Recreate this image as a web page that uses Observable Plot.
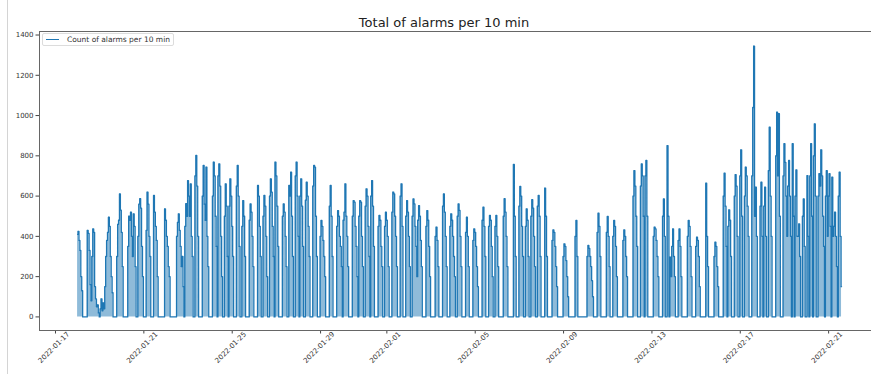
<!DOCTYPE html>
<html>
<head>
<meta charset="utf-8">
<script src="https://cdn.jsdelivr.net/npm/d3@7"></script>
<script src="https://cdn.jsdelivr.net/npm/@observablehq/plot@0.6"></script>
<style>
  body { margin: 0; background: #fff; font-family: "DejaVu Sans", sans-serif; }
  #wrap { position: relative; width: 871px; height: 374px; overflow: hidden; background: #fff; }
  #cellbar { position: absolute; left: 7px; top: 0; width: 1px; height: 374px; background: #d4d4d4; }
  #title { position: absolute; left: 444px; top: 16px; transform: translateX(-50%); font-size: 13px; line-height: 1; color: #222; white-space: nowrap; }
  #chart { position: absolute; left: 0; top: 30px; }
  #legend { position: absolute; left: 42px; top: 33px; width: 130px; height: 11px; border: 1px solid #dcdcdc; border-radius: 2px; background: rgba(255,255,255,0.85); }
  #legend .swatch { position: absolute; left: 3px; top: 5px; width: 13px; height: 1px; background: #1f77b4; }
  #legend .label { position: absolute; left: 24px; top: 1.5px; font-size: 7.5px; line-height: 1; color: #333; white-space: nowrap; }
</style>
</head>
<body>
<div id="wrap">
  <div id="cellbar"></div>
  <div id="title">Total of alarms per 10 min</div>
  <div id="chart"></div>
  <div id="legend"><div class="swatch"></div><div class="label">Count of alarms per 10 min</div></div>
</div>
<script>
// ---- data ----
const seriesStart = "2022-01-18T00:00Z";   // first sample
const seriesHours = 831;                    // hourly samples through 2022-02-21 14:00

// start of each burst of alarms, in hours after seriesStart
const pulseStartHour = [
  0, 11, 22, 30, 43, 55, 66, 75, 83, 95,
  108, 117, 128, 136, 147, 153, 160, 165, 173, 179,
  187, 196, 202, 209, 215, 223, 230, 237, 242, 248,
  256, 264, 274, 282, 289, 299, 306, 313, 319, 327,
  334, 342, 351, 357, 364, 370, 379, 389, 397, 405,
  413, 422, 430, 440, 447, 454, 463, 474, 480, 487,
  493, 500, 508, 516, 528, 541, 554, 565, 575, 582,
  593, 604, 612, 617, 626, 636, 641, 644, 653, 663,
  672, 683, 692, 702, 707, 714, 720, 725, 733, 742,
  746, 751, 759, 767, 772, 777, 780, 783, 788, 793,
  796, 800, 805, 813, 816, 820, 822, 827
];

// hourly alarm counts during each burst (zero outside the bursts)
const pulseCounts = [
  [410, 425, 380, 330, 200, 130],
  [430, 415, 330, 160, 80, 300, 437, 420, 150, 90, 50],
  [60, 20, 0, 40, 90, 30, 70, 40],
  [150, 300, 380, 420, 495, 450, 300, 200, 120],
  [300, 460, 480, 611, 530, 420, 250],
  [350, 500, 480, 520, 400, 300, 512, 450, 250],
  [400, 560, 587, 540, 350, 200],
  [430, 620, 560, 400, 300],
  [603, 520, 450, 380, 200],
  [537, 480, 400, 350, 250, 200],
  [400, 470, 512, 430, 350, 250, 300, 150],
  [450, 562, 500, 677, 600, 500, 660, 400, 300],
  [700, 802, 650, 400],
  [600, 752, 560, 480, 744, 400, 250],
  [600, 769, 700, 500, 350],
  [700, 760, 650, 400, 200],
  [500, 661, 550, 300],
  [550, 686, 600, 450, 300],
  [650, 752, 600, 350],
  [450, 578, 500, 300],
  [480, 561, 520, 400, 250],
  [653, 600, 450, 300],
  [500, 603, 550, 400, 200],
  [600, 686, 620, 450, 300],
  [769, 700, 550, 350],
  [500, 561, 520, 400, 250],
  [653, 600, 719, 500, 300],
  [700, 769, 600, 400],
  [600, 686, 550, 350],
  [580, 669, 600, 450, 300],
  [650, 752, 744, 500, 300],
  [400, 479, 450, 380, 300, 200],
  [550, 653, 500, 300],
  [450, 528, 500, 400, 350, 250],
  [480, 520, 661, 500, 400, 250],
  [500, 578, 570, 450, 350, 200],
  [500, 578, 570, 400, 250],
  [550, 636, 600, 450, 300],
  [600, 677, 550, 350],
  [450, 504, 480, 350, 250],
  [450, 520, 480, 400, 250],
  [520, 620, 611, 500, 400, 250],
  [600, 661, 450],
  [500, 578, 520, 400, 250],
  [500, 586, 561, 450, 350, 200],
  [480, 553, 500, 380, 250],
  [450, 528, 480, 350, 200],
  [400, 446, 380, 250],
  [550, 611, 520, 400, 250],
  [450, 512, 480, 400, 300, 200],
  [500, 561, 529, 400, 250],
  [420, 495, 400, 250],
  [380, 437, 420, 350, 250, 150],
  [480, 545, 450, 300],
  [450, 504, 480, 350, 200],
  [450, 504, 400, 250],
  [500, 587, 520, 400, 250],
  [757, 500, 300],
  [550, 648, 600, 450, 300],
  [450, 537, 480, 300],
  [500, 582, 540, 400, 250],
  [550, 603, 500, 300],
  [640, 500, 300],
  [380, 432, 420, 350, 250, 150],
  [300, 363, 350, 280, 200, 100],
  [400, 479, 300],
  [300, 355, 340, 300, 250, 180, 100],
  [420, 515, 450, 300],
  [420, 499, 400, 250],
  [400, 479, 450, 350, 200],
  [380, 432, 400, 300, 200],
  [600, 727, 650, 500, 350],
  [650, 760, 700, 500],
  [700, 777, 500],
  [400, 446, 437, 380, 300, 200],
  [500, 586, 400],
  [851, 500],
  [297, 200, 350, 437, 300, 200],
  [380, 437, 350, 200],
  [400, 479, 450, 350, 200],
  [350, 396, 380, 300, 150],
  [664, 400, 250],
  [300, 371, 350, 250, 150],
  [600, 714, 550, 350],
  [450, 532, 480, 300],
  [600, 707, 650, 400],
  [700, 830, 500],
  [600, 744, 700, 550, 400],
  [700, 1040, 1345, 500, 644, 400],
  [550, 669, 400],
  [550, 644, 400],
  [727, 942, 600, 400],
  [800, 1017, 700, 1010, 500],
  [700, 860, 768, 600, 400],
  [650, 777, 600, 400],
  [860, 500],
  [600, 730, 400],
  [400, 462, 300],
  [500, 586, 350],
  [702, 400],
  [700, 860, 500],
  [800, 959, 600],
  [600, 711, 650, 830, 700, 500, 350],
  [600, 727, 400],
  [600, 711, 450],
  [694, 400],
  [450, 520, 400, 250],
  [600, 719, 400, 150]
];

// tick labels
const xTickLabels = ["2022-01-17", "2022-01-21", "2022-01-25", "2022-01-29", "2022-02-01",
                     "2022-02-05", "2022-02-09", "2022-02-13", "2022-02-17", "2022-02-21"];
const yTicks = [0, 200, 400, 600, 800, 1000, 1200, 1400];

// ---- build table ----
const t0 = new Date(seriesStart);
const counts = new Array(seriesHours).fill(0);
pulseStartHour.forEach((h, i) => {
  pulseCounts[i].forEach((v, j) => { if (h + j < seriesHours) counts[h + j] = v; });
});
const series = counts.map((c, h) => ({ time: new Date(+t0 + h * 3600e3), count: c }));
const xTicks = xTickLabels.map(s => new Date(s + "T00:00Z"));

// axis limits (matplotlib-style 5% margins)
const xDomain = [new Date("2022-01-16T06:37Z"), new Date("2022-02-22T22:34Z")];
const yDomain = [-67.5, 1417.5];

const chart = Plot.plot({
  width: 871,
  height: 344,
  marginTop: 1,
  marginBottom: 44,
  marginLeft: 39,
  marginRight: 0,
  style: { fontFamily: "DejaVu Sans, sans-serif", fontSize: "7px", color: "#333", background: "transparent", overflow: "visible" },
  x: { type: "utc", domain: xDomain },
  y: { domain: yDomain },
  marks: [
    Plot.axisY(yTicks, { tickSize: 3.5, tickPadding: 2.5, fontSize: 7, label: null, stroke: "#444", tickFormat: d => String(d) }),
    Plot.axisX(xTicks, { tickSize: 3.5, tickFormat: () => "", label: null, stroke: "#444" }),
    Plot.text(xTicks, {
      x: d => d, text: (d, i) => xTickLabels[i],
      frameAnchor: "bottom", dy: 18.5, rotate: -45,
      textAnchor: "middle", fontSize: 7, fill: "#333"
    }),
    Plot.areaY(series, { x: "time", y1: 0, y2: "count", curve: "step", fill: "#1f77b4", fillOpacity: 0.5 }),
    Plot.line(series, { x: "time", y: "count", curve: "step", stroke: "#1f77b4", strokeWidth: 1.3 }),
    Plot.ruleX([xDomain[0]], { stroke: "#666", strokeWidth: 1 }),
    Plot.ruleY([yDomain[0], yDomain[1]], { stroke: "#666", strokeWidth: 1 })
  ]
});
document.getElementById("chart").appendChild(chart);
</script>
</body>
</html>
